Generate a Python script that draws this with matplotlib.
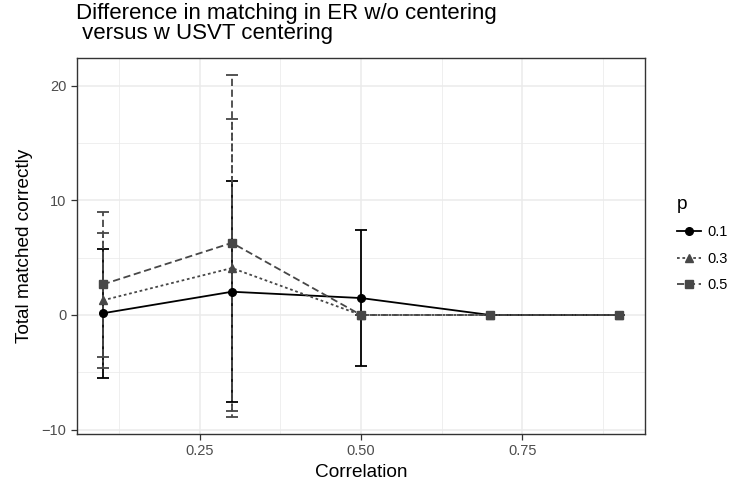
import numpy as np
import matplotlib
matplotlib.use("Agg")
import matplotlib.pyplot as plt

plt.rcParams['font.family'] = ['Liberation Sans', 'DejaVu Sans']

# data
correlation = [0.1, 0.3, 0.5, 0.7, 0.9]
p_levels = ['0.1', '0.3', '0.5']
mean_01 = [0.15, 2.03, 1.48, 0.0, 0.0]
sd_01 = [5.65, 9.65, 5.93, 0.0, 0.0]
mean_03 = [1.28, 4.10, 0.0, 0.0, 0.0]
sd_03 = [5.87, 13.0, 0.0, 0.0, 0.0]
mean_05 = [2.67, 6.30, 0.0, 0.0, 0.0]
sd_05 = [6.33, 14.65, 0.0, 0.0, 0.0]

means = [mean_01, mean_03, mean_05]
sds = [sd_01, sd_03, sd_05]
colors = ['black', '#474747', '#474747']
markers = ['o', '^', 's']
styles = ['-', (0, (1.5, 1.5)), (0, (4, 2))]

W, H = 732, 486
fig = plt.figure(figsize=(W / 100, H / 100), dpi=100)
ax = fig.add_axes([77 / W, (H - 434) / H, 568 / W, 376 / H])

handles = []
for lab, m, s, c, mk, ls in zip(p_levels, means, sds, colors, markers, styles):
    eb = ax.errorbar(correlation, m, yerr=s, color=c, ecolor=c, marker=mk,
                     markersize=5.5 if mk != '^' else 6, linestyle=ls, linewidth=1.3,
                     elinewidth=1.3, capsize=4.3, capthick=1.3, label=lab, zorder=3)
    eb[2][0].set_linestyle(ls)
    handles.append(eb[0])

# ggplot-like limits (5% expansion)
hi = max((np.array(m) + np.array(s)).max() for m, s in zip(means, sds))
lo = min((np.array(m) - np.array(s)).min() for m, s in zip(means, sds))
pad = (hi - lo) * 0.05
ax.set_ylim(lo - pad, hi + pad)
xr = max(correlation) - min(correlation)
ax.set_xlim(min(correlation) - 0.05 * xr, max(correlation) + 0.05 * xr)

ax.set_xticks([0.25, 0.50, 0.75])
ax.set_xticklabels(['0.25', '0.50', '0.75'])
ax.set_xticks([0.125, 0.375, 0.625, 0.875], minor=True)
ax.set_yticks([-10, 0, 10, 20])
ax.set_yticks([-5, 5, 15], minor=True)
ax.grid(True, which='major', color='#EBEBEB', linewidth=1.1, zorder=0)
ax.grid(True, which='minor', color='#EBEBEB', linewidth=0.55, zorder=0)
ax.set_axisbelow(True)
ax.tick_params(which='major', length=4, width=0.9, color='#333333',
               labelsize=10.5, labelcolor='#4D4D4D')
ax.tick_params(which='minor', length=0)
for sp in ax.spines.values():
    sp.set_color('#333333')
    sp.set_linewidth(1.0)

ax.set_xlabel('Correlation', fontsize=13.7, labelpad=4)
ax.set_ylabel('Total matched correctly', fontsize=13.7, labelpad=6)

fig.text(76 / W, 1 - 3 / H, 'Difference in matching in ER w/o centering\n versus w USVT centering',
         fontsize=16, ha='left', va='top', linespacing=0.95)

leg = fig.legend(handles=handles, labels=p_levels, loc='center left',
                 bbox_to_anchor=(677 / W, 1 - 244 / H), frameon=False,
                 borderpad=0, borderaxespad=0,
                 title='p', title_fontsize=13.7, fontsize=10.5, alignment='left',
                 handlelength=1.65, handletextpad=0.45, labelspacing=0.85)

fig.savefig('out.png', dpi=100)
